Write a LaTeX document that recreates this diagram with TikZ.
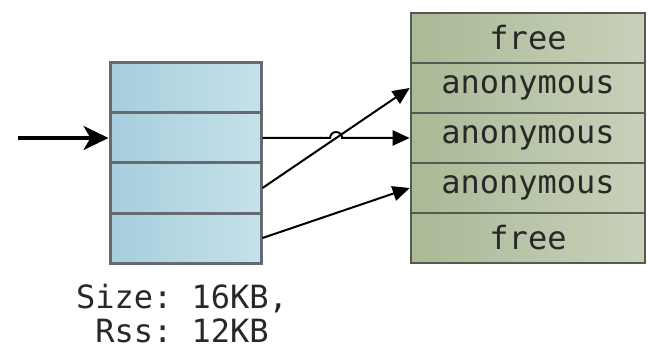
\documentclass[tikz,border=0pt]{standalone}
\usepackage{fontspec}
\setmonofont{DejaVu Sans Mono}
\usetikzlibrary{arrows.meta,calc}
\definecolor{blueA}{RGB}{166,206,221}
\definecolor{blueB}{RGB}{198,225,234}
\definecolor{blueline}{RGB}{100,108,114}
\definecolor{oliveA}{RGB}{170,185,150}
\definecolor{oliveB}{RGB}{200,209,186}
\definecolor{oliveline}{RGB}{84,90,80}
\definecolor{textgray}{RGB}{40,40,40}
\tikzset{
  lcell/.style={draw=blueline, line width=3pt, left color=blueA, right color=blueB,
    minimum width=151pt, minimum height=50pt, inner sep=0pt},
  rcell/.style={draw=oliveline, line width=2.6pt, left color=oliveA, right color=oliveB,
    minimum width=234pt, minimum height=50pt, inner sep=0pt,
    font=\ttfamily\fontsize{32}{34}\selectfont, text=textgray},
  ptr/.style={line width=2pt, -{Triangle[length=17pt,width=15pt]}},
  entry/.style={line width=3.2pt, -{Stealth[length=25pt,width=24pt,inset=7pt]}}
}
\begin{document}
\begin{tikzpicture}[x=1pt,y=-1pt]
\useasboundingbox (0,0) rectangle (648,350);
% left: the mapping, four pages
\node[lcell] (l1) at (185.5,88) {};
\node[lcell] (l2) at (185.5,138) {};
\node[lcell] (l3) at (185.5,188) {};
\node[lcell] (l4) at (185.5,238) {};
% right: the pages behind it
\node[rcell] (r1) at (528,38) {free};
\node[rcell] (r2) at (528,88) {anonymous};
\node[rcell] (r3) at (528,138) {anonymous};
\node[rcell] (r4) at (528,188) {anonymous};
\node[rcell] (r5) at (528,238) {free};
% size info
\node[font=\ttfamily\fontsize{32}{34}\selectfont, text=textgray, align=center]
  (info) at (182,314) {Size: 16KB,\\Rss: 12KB};
% pointers
\coordinate (start) at (18,138);
\draw[entry] (start) -- (l2.west);
\draw[ptr] (l3.east) -- (r2.west);
\draw[ptr] (l4.east) -- (r4.west);
\coordinate (hop) at ($(l2.east)!0.5!(r3.west)$);
\draw[ptr] (l2.east) -- ([xshift=-6pt]hop) arc (180:0:6pt) -- (r3.west);
\end{tikzpicture}
\end{document}
